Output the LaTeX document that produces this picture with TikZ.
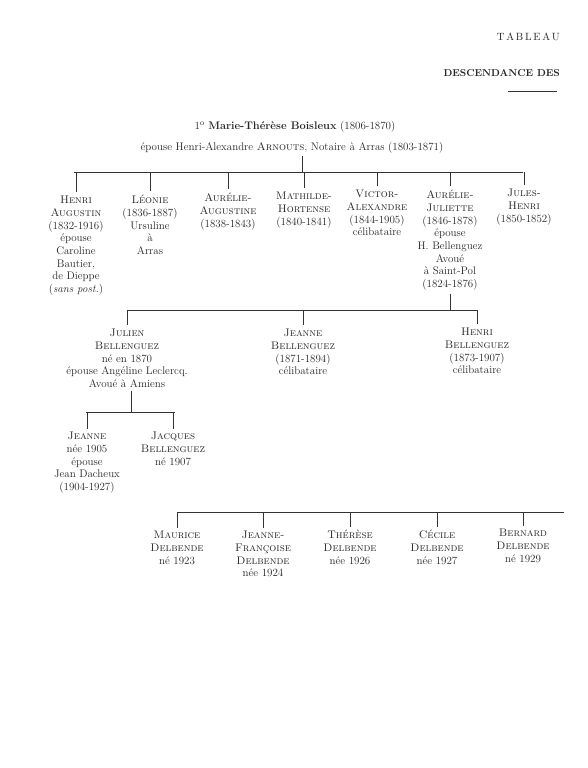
\documentclass[tikz,border=0pt]{standalone}
\usepackage{fontspec}
\begin{document}
\begin{tikzpicture}[x=1pt,y=-1pt,
  txt/.style={inner sep=0pt, align=center, anchor=north, text=black!85,
    font=\fontsize{11}{12.7}\selectfont},
  conn/.style={line width=0.6pt, draw=black!80}]
\fill[white] (0,0) rectangle (587,768);
\useasboundingbox (0,0) rectangle (587,768);

% header
\node[txt, anchor=base east, font=\fontsize{10.5}{12}\selectfont] (tableau) at (560,41) {T\,A\,B\,L\,E\,A\,U};
\node[txt, anchor=base east, font=\fontsize{10}{12}\selectfont\bfseries] (desc) at (560,77) {DESCENDANCE DES};
\coordinate (hr1) at (508,91);
\coordinate (hr2) at (557,91);
\draw[conn] (hr1) -- (hr2);

% title
\node[txt, anchor=base] (title1) at (295,129) {1\textsuperscript{o} \textbf{Marie-Thérèse Boisleux} (1806-1870)};
\node[txt, anchor=base, inner ysep=3pt] (title2) at (292,150) {épouse Henri-Alexandre \textsc{Arnouts}, Notaire à Arras (1803-1871)};

% bars
\coordinate (b1L) at (74,172);  \coordinate (b1R) at (523,172);
\coordinate (b2L) at (128,310); \coordinate (b2R) at (478,310);
\coordinate (b3L) at (86,412);  \coordinate (b3R) at (175,412);
\coordinate (b4L) at (177,512); \coordinate (b4R) at (564,512);
\foreach \a/\b in {b1L/b1R,b2L/b2R,b3L/b3R,b4L/b4R} \draw[conn] (\a) -- (\b);

% row 1
\node[txt] (henri) at (76,196) {\textsc{Henri}\\\textsc{Augustin}\\(1832-1916)\\épouse\\Caroline\\Bautier,\\de Dieppe\\(\textit{sans post.})};
\node[txt] (leonie) at (150,195) {\textsc{Léonie}\\(1836-1887)\\Ursuline\\à\\Arras};
\node[txt] (aurelieA) at (228,193) {\textsc{Aurélie-}\\\textsc{Augustine}\\(1838-1843)};
\node[txt] (mathilde) at (304,192) {\textsc{Mathilde-}\\\textsc{Hortense}\\(1840-1841)};
\node[txt] (victor) at (377,190) {\textsc{Victor-}\\\textsc{Alexandre}\\(1844-1905)\\célibataire};
\node[txt, inner ysep=3pt] (aurelieJ) at (450,187) {\textsc{Aurélie-}\\\textsc{Juliette}\\(1846-1878)\\épouse\\H. Bellenguez\\Avoué\\à Saint-Pol\\(1824-1876)};
\node[txt] (jules) at (524,189) {\textsc{Jules-}\\\textsc{Henri}\\(1850-1852)};

% row 2
\node[txt, inner ysep=3pt] (julien) at (127,326) {\textsc{Julien}\\\textsc{Bellenguez}\\né en 1870\\épouse Angéline Leclercq.\\Avoué à Amiens};
\node[txt] (jeanneB) at (303,329) {\textsc{Jeanne}\\\textsc{Bellenguez}\\(1871-1894)\\célibataire};
\node[txt] (henriB) at (477,328) {\textsc{Henri}\\\textsc{Bellenguez}\\(1873-1907)\\célibataire};

% row 3
\node[txt] (jeanne) at (87,432) {\textsc{Jeanne}\\née 1905\\épouse\\Jean Dacheux\\(1904-1927)};
\node[txt] (jacques) at (173,432) {\textsc{Jacques}\\\textsc{Bellenguez}\\né 1907};

% row 4
\node[txt] (maurice) at (177,531) {\textsc{Maurice}\\\textsc{Delbende}\\né 1923};
\node[txt] (jeanneF) at (263,531) {\textsc{Jeanne-}\\\textsc{Françoise}\\\textsc{Delbende}\\née 1924};
\node[txt] (therese) at (350,530) {\textsc{Thérèse}\\\textsc{Delbende}\\née 1926};
\node[txt] (cecile) at (437,530) {\textsc{Cécile}\\\textsc{Delbende}\\née 1927};
\node[txt] (bernard) at (523,529) {\textsc{Bernard}\\\textsc{Delbende}\\né 1929};

% drops
\foreach \n in {henri,leonie,aurelieA,mathilde,victor,jules}
  \draw[conn] (\n.north |- b1L) -- ([yshift=4pt]\n.north);
\draw[conn] (aurelieJ.north |- b1L) -- ([yshift=1pt]aurelieJ.north);
\foreach \n in {jeanneB,henriB}
  \draw[conn] (\n.north |- b2L) -- ([yshift=4pt]\n.north);
\draw[conn] (julien.north |- b2L) -- ([yshift=1pt]julien.north);
\foreach \n in {jeanne,jacques}
  \draw[conn] (\n.north |- b3L) -- ([yshift=3pt]\n.north);
\foreach \n in {maurice,jeanneF,therese,cecile,bernard}
  \draw[conn] (\n.north |- b4L) -- ([yshift=3pt]\n.north);

% parent stems
\coordinate (s1) at (302,0);
\draw[conn] (s1 |- title2.south) -- (s1 |- b1L);
\draw[conn] (aurelieJ.south) -- (aurelieJ.south |- b2L);
\coordinate (s3) at (131,0);
\draw[conn] (s3 |- julien.south) -- (s3 |- b3L);
\end{tikzpicture}
\end{document}
